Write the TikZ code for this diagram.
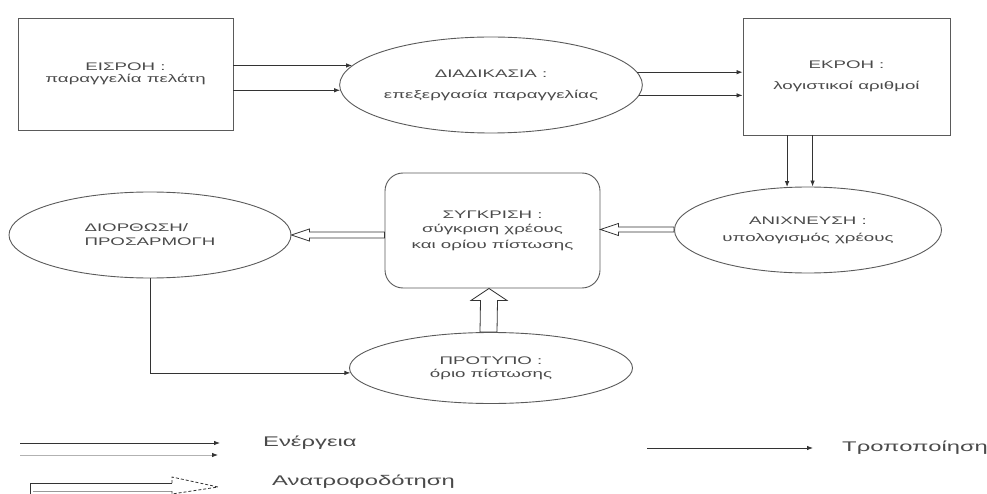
\documentclass[tikz,border=0pt]{standalone}
\usepackage{fontspec}
\setmainfont{Liberation Sans}
\newfontfamily\diagfont[FakeStretch=1.7]{Liberation Sans}
\usetikzlibrary{shapes.geometric,arrows.meta,calc}
\definecolor{ink}{HTML}{333333}
\definecolor{edge}{HTML}{5A5A5A}
\definecolor{txt}{HTML}{4A4A4A}
\tikzset{
  box/.style={draw=edge, line width=0.9pt, rectangle, inner sep=0pt, align=center,
    text=txt, font=\diagfont\fontsize{11}{13}\selectfont},
  oval/.style={box, ellipse},
  act/.style={draw=ink, line width=0.8pt, -{Latex[length=6pt,width=4.5pt,color=ink]}},
  fb/.style={draw=ink, line width=0.8pt, fill=white, line join=miter},
  legendtxt/.style={text=txt, font=\diagfont\fontsize{14}{16}\selectfont, anchor=west, inner sep=0pt},
}
\begin{document}
\begin{tikzpicture}[x=1pt,y=-1pt]
\useasboundingbox (0,0) rectangle (987,494);

% process blocks
\node[box, minimum width=215pt, minimum height=112pt] (in) at (125.5,74)
  {ΕΙΣΡΟΗ :\\[-1pt]παραγγελία πελάτη};
\node[oval, minimum width=284pt, minimum height=96pt] (proc) at (491,85)
  {ΔΙΑΔΙΚΑΣΙΑ :\\[8pt]επεξεργασία παραγγελίας};
\node[box, minimum width=207pt, minimum height=117pt] (out) at (846.5,76.5)
  {ΕΚΡΟΗ :\\[8pt]λογιστικοί αριθμοί};
\node[oval, minimum width=267pt, minimum height=86pt] (anix) at (808,230)
  {ΑΝΙΧΝΕΥΣΗ :\\[4pt]υπολογισμός χρέους};
\node[box, rounded corners=18pt, minimum width=215pt, minimum height=115pt] (comp) at (492.5,230.5)
  {ΣΥΓΚΡΙΣΗ :\\[1pt]σύγκριση χρέους\\[3pt]και ορίου πίστωσης};
\node[oval, align=left, minimum width=282pt, minimum height=86pt] (diorth) at (150,235)
  {ΔΙΟΡΘΩΣΗ/\\[1pt]ΠΡΟΣΑΡΜΟΓΗ};
\node[oval, minimum width=283pt, minimum height=71pt] (proto) at (491,368)
  {ΠΡΟΤΥΠΟ :\\όριο πίστωσης};

% action flows
\draw[act] (in.east |- proc.172.7) -- (proc.172.7);
\draw[act] (in.east |- proc.182) -- (proc.182);
\draw[act] (proc.5.9) -- (proc.5.9 -| out.west);
\draw[act] (proc.-4.5) -- (proc.-4.5 -| out.west);
\draw[act] (out.south -| anix.116.3) -- (anix.116.3);
\draw[act] (out.south -| anix.84.7) -- (anix.84.7);

% adjustment flow
\draw[act] (diorth.south) |- (proto.182.9);

% feedback flows (hollow double arrows)
\draw[fb] ($(comp.east)+(0,-1)$) -- ++(18,-6) -- ++(0,3.5)
  -- ($(anix.west)+(0,-3)$) -- ($(anix.west)+(0,2)$)
  -- ($(comp.east)+(18,1.5)$) -- ++(0,3.5) -- cycle;
\draw[fb] (diorth.east) -- ++(18,-6) -- ++(0,3)
  -- ($(comp.west)+(0,1.5)$) -- ($(comp.west)+(0,7.5)$)
  -- ($(diorth.east)+(18,3)$) -- ++(0,3) -- cycle;
\draw[fb] ($(comp.south)+(-3.5,0)$) -- ++(-18,12) -- ++(9.5,0)
  -- ($(proto.north)+(-11,0)$) -- ($(proto.north)+(6,0)$)
  -- ($(comp.south)+(5,12)$) -- ++(9.5,0) -- cycle;

% legend
\coordinate (la1) at (20,443);  \coordinate (lb1) at (220,443);
\coordinate (la2) at (20,455);  \coordinate (lb2) at (218,455);
\draw[act] (la1) -- (lb1);
\draw[act, draw=black!30] (la2) -- (lb2);
\node[legendtxt] (lgact) at (263,443) {Ενέργεια};

\coordinate (fa) at (30,494);
\coordinate (fb1) at (172,483);
\coordinate (fb2) at (172,491);
\coordinate (ftip) at (218,487);
\draw[draw=ink, line width=0.8pt] (fa) |- (fb1);
\draw[draw=black!40, line width=0.8pt] (fa |- fb2) ++(3,0) -- (fb2);
\draw[draw=ink, line width=0.8pt, dashed, dash pattern=on 3pt off 2pt]
  (fb1) -- ++(0,-6) -- (ftip) -- ($(fb2)+(0,3)$) -- (fb2);
\node[legendtxt] (lgfb) at (272,482) {Ανατροφοδότηση};

\coordinate (lc1) at (647,448); \coordinate (lc2) at (813,448);
\draw[act] (lc1) -- (lc2);
\node[legendtxt] (lgmod) at (842,448) {Τροποποίηση};
\end{tikzpicture}
\end{document}
